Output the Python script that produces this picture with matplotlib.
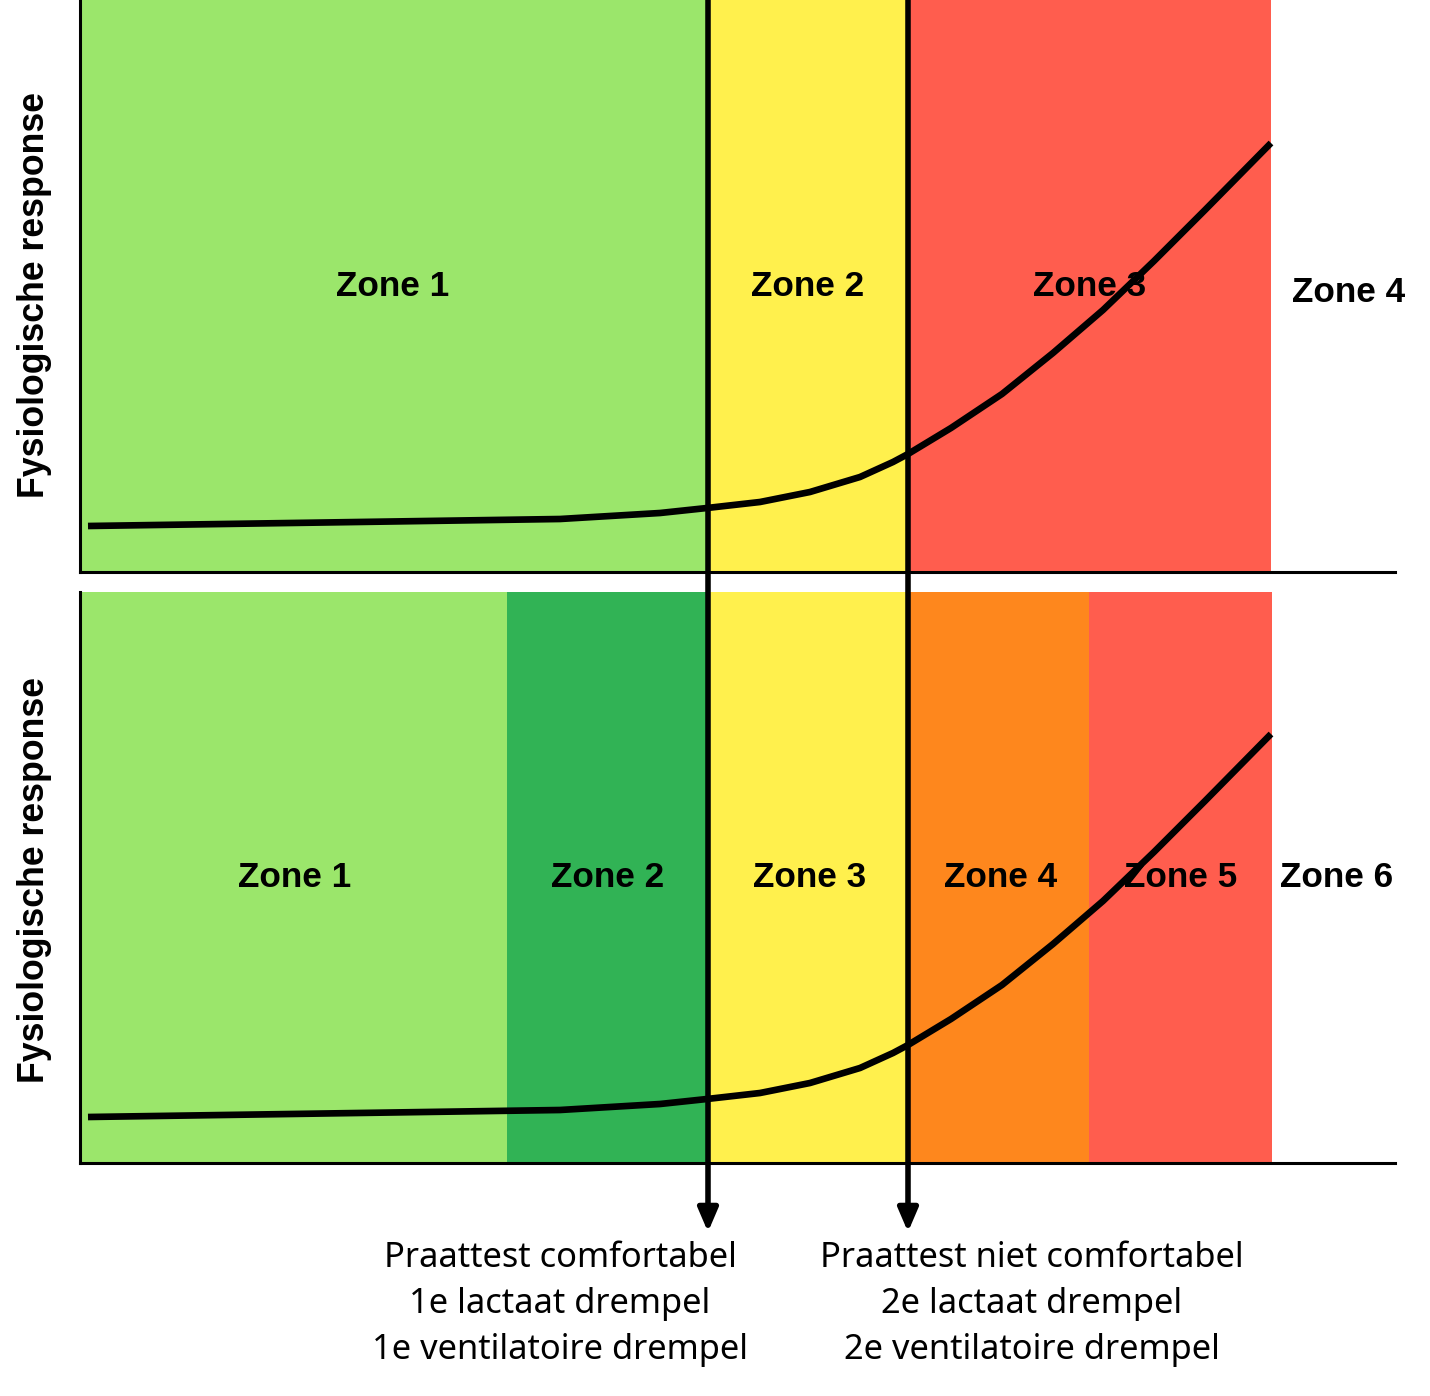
import matplotlib
matplotlib.use("Agg")
import matplotlib.pyplot as plt

# intensiteit (x) en fysiologische respons (y), zelfde curve in beide panelen
curve_x = [8, 480, 580, 627, 680, 730, 780, 813, 828, 871, 922, 973, 1023, 1074, 1125, 1191]
curve_y = [46, 53, 59, 64, 70, 80, 95, 110, 118, 144, 178, 219, 262, 311, 362, 429]

# drempels
thresholds = [628, 828]

# bovenste model: 4 zones
top_edges = [0, 628, 828, 1191]
top_colors = ["#9be66b", "#fff04d", "#ff5d4e"]
top_labels = ["Zone 1", "Zone 2", "Zone 3", "Zone 4"]
top_label_x = [313, 728, 1010, 1269]
top_label_y = [285, 285, 285, 279]

# onderste model: 6 zones
bot_edges = [0, 427, 628, 828, 1009, 1192]
bot_colors = ["#9be66b", "#31b355", "#fff04d", "#fe871d", "#ff5d4e"]
bot_labels = ["Zone 1", "Zone 2", "Zone 3", "Zone 4", "Zone 5", "Zone 6"]
bot_label_x = [215, 528, 730, 921, 1101, 1257]
bot_label_y = [285, 285, 285, 285, 285, 285]

ylabel = "Fysiologische response"
left_text = ["Praattest comfortabel", "1e lactaat drempel", "1e ventilatoire drempel"]
right_text = ["Praattest niet comfortabel", "2e lactaat drempel", "2e ventilatoire drempel"]

W, H = 1430, 1396
fig = plt.figure(figsize=(W / 100, H / 100), dpi=100)

ax_top = fig.add_axes([80 / W, 1 - 572 / H, 1315 / W, 572 / H])
ax_bot = fig.add_axes([80 / W, 1 - 1163 / H, 1315 / W, 571 / H])


def draw_panel(ax, edges, colors, labels, lx, ly, ymax):
    ax.set_xlim(0, 1315)
    ax.set_ylim(0, ymax)
    for i, c in enumerate(colors):
        ax.axvspan(edges[i], edges[i + 1], color=c, lw=0, zorder=0)
    ax.plot(curve_x, curve_y, color="black", lw=4.8, solid_capstyle="butt",
            solid_joinstyle="round", zorder=2)
    for t, x, y in zip(labels, lx, ly):
        ax.text(x, y, t, ha="center", va="center", fontsize=25.3,
                fontweight="bold", family="Liberation Sans", zorder=3)
    for s in ["top", "right"]:
        ax.spines[s].set_visible(False)
    ax.spines["left"].set_linewidth(2.2)
    ax.spines["bottom"].set_linewidth(2.2)
    ax.set_xticks([])
    ax.set_yticks([])
    ax.patch.set_alpha(0)


draw_panel(ax_top, top_edges, top_colors, top_labels, top_label_x, top_label_y, 572)
draw_panel(ax_bot, bot_edges, bot_colors, bot_labels, bot_label_x, bot_label_y, 571)

# drempellijnen met pijl, van de bovenkant tot onder de grafiek
for tx in thresholds:
    ax_bot.annotate("", xy=(tx, -69), xytext=(tx, 1163), xycoords="data",
                    annotation_clip=False,
                    arrowprops=dict(arrowstyle="-|>,head_length=14,head_width=6",
                                    mutation_scale=1, color="black", lw=4.0,
                                    shrinkA=0, shrinkB=0))

# y-labels
for yc in [295, 880]:
    fig.text(35 / W, 1 - yc / H, ylabel, rotation=90, ha="center", va="center",
             fontsize=25.7, fontweight="bold", family="Liberation Sans")

# teksten onder de drempels
for i in range(3):
    y = 1 - (1258 + 46 * i) / H
    fig.text(560 / W, y, left_text[i], ha="center", va="center",
             fontsize=24.8, family="Noto Sans")
    fig.text(1032 / W, y, right_text[i], ha="center", va="center",
             fontsize=24.8, family="Noto Sans")

fig.savefig("out.png", dpi=100, facecolor="white")
